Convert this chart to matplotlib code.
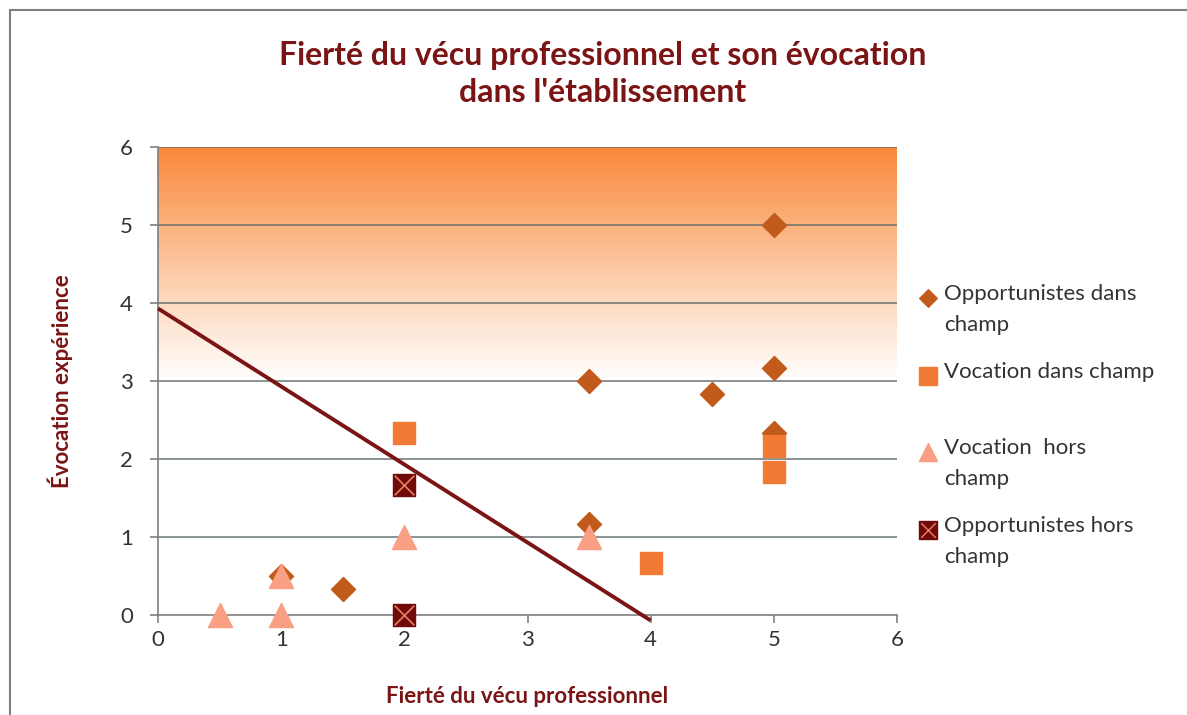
import matplotlib
matplotlib.use("Agg")
import matplotlib.pyplot as plt
import numpy as np
from matplotlib.colors import LinearSegmentedColormap
from matplotlib.patches import Rectangle

plt.rcParams["font.family"] = ["Lato", "DejaVu Sans"]

# Series (Fierté, Évocation)
opp_dans_x = [1, 1.5, 3.5, 3.5, 4.5, 5, 5, 5]
opp_dans_y = [0.5, 0.33, 3.0, 1.17, 2.83, 5.0, 3.17, 2.33]

voc_dans_x = [2, 4, 5, 5]
voc_dans_y = [2.33, 0.67, 2.17, 1.83]

voc_hors_x = [0.5, 1, 1, 2, 3.5]
voc_hors_y = [0, 0, 0.5, 1, 1]

opp_hors_x = [2, 2]
opp_hors_y = [1.67, 0]

trend_x = [0, 4]
trend_y = [3.93, -0.07]

labels = ["Opportunistes dans\nchamp", "Vocation dans champ",
          "Vocation  hors\nchamp", "Opportunistes hors\nchamp"]

DARK_RED = "#7B1414"
C_DIAMOND = "#C25A1C"
C_SQUARE = "#F27A35"
C_TRI = "#F9A084"
C_XSQ = "#6E0A0A"

fig = plt.figure(figsize=(11.87, 7.15), dpi=100)
W, H = 1187, 715

# figure frame
fig.patches.append(Rectangle((10 / W, -0.1), 1.2, 1 - 10 / H + 0.1,
                             transform=fig.transFigure, fill=False,
                             edgecolor="#7f7f7f", linewidth=1.5))

ax = fig.add_axes([158 / W, 1 - 615 / H, (897 - 158) / W, (615 - 147) / H])
ax.set_xlim(0, 6)
ax.set_ylim(0, 6)

# orange gradient band from 3 to 6
cmap = LinearSegmentedColormap.from_list(
    "band", [(0, "#FFFFFF"), (0.35, "#FDD9BD"), (1, "#F9883A")])
grad = np.linspace(0, 1, 256).reshape(-1, 1)
ax.imshow(grad, extent=[0, 6, 3, 6], origin="lower", aspect="auto",
          cmap=cmap, zorder=0)

for yv in range(1, 7):
    ax.axhline(yv, color="#5f6b6b", linewidth=1.2, alpha=0.85, zorder=1)

kw = dict(zorder=3, clip_on=False)
ax.scatter(opp_dans_x, opp_dans_y, marker="D", s=150, color=C_DIAMOND, **kw)
ax.scatter(voc_dans_x, voc_dans_y, marker="s", s=260, color=C_SQUARE, **kw)
ax.scatter(voc_hors_x, voc_hors_y, marker="^", s=300, color=C_TRI,
           zorder=4, clip_on=False)
ax.scatter(opp_hors_x, opp_hors_y, marker="s", s=260, color=C_XSQ,
           zorder=4, clip_on=False)
ax.scatter(opp_hors_x, opp_hors_y, marker="x", s=200, color="#E8805E",
           linewidths=1.2, zorder=5, clip_on=False)

ax.plot(trend_x, trend_y, color=DARK_RED, linewidth=2.8, zorder=6,
        solid_capstyle="butt", clip_on=False)

for s in ["top", "right"]:
    ax.spines[s].set_visible(False)
for s in ["left", "bottom"]:
    ax.spines[s].set_color("#7f7f7f")
    ax.spines[s].set_linewidth(1.2)
ax.set_xticks(range(0, 7))
ax.set_yticks(range(0, 7))
ax.tick_params(axis="both", colors="#7f7f7f", labelcolor="#333333",
               labelsize=16, length=6, width=1.2)
ax.tick_params(axis="x", pad=5)
ax.tick_params(axis="y", pad=12)

ax.set_xlabel("Fierté du vécu professionnel", fontsize=16, fontweight="bold",
              color=DARK_RED, labelpad=26)
ax.set_ylabel("Évocation expérience", fontsize=16, fontweight="bold",
              color=DARK_RED, labelpad=34)

fig.text(603 / W, 1 - 74 / H,
         "Fierté du vécu professionnel et son évocation\ndans l'établissement",
         ha="center", va="center", fontsize=23, fontweight="bold",
         color=DARK_RED, linespacing=1.35)

# legend drawn manually
lax = fig.add_axes([0, 0, 1, 1])
lax.set_xlim(0, W)
lax.set_ylim(H, 0)
lax.axis("off")
lx, tx = 928, 944
lax.scatter([lx], [298], marker="D", s=80, color=C_DIAMOND)
lax.scatter([lx], [376], marker="s", s=170, color=C_SQUARE)
lax.scatter([lx], [452], marker="^", s=170, color=C_TRI)
lax.scatter([lx], [530], marker="s", s=150, color=C_XSQ)
lax.scatter([lx], [530], marker="x", s=110, color="#E8805E", linewidths=1.0)
for ty, lab in zip([298, 376, 452, 530], labels):
    lax.text(tx, ty - 14, lab, ha="left", va="top", fontsize=16,
             color="#333333", linespacing=1.7)

fig.savefig("out.png", dpi=100)
